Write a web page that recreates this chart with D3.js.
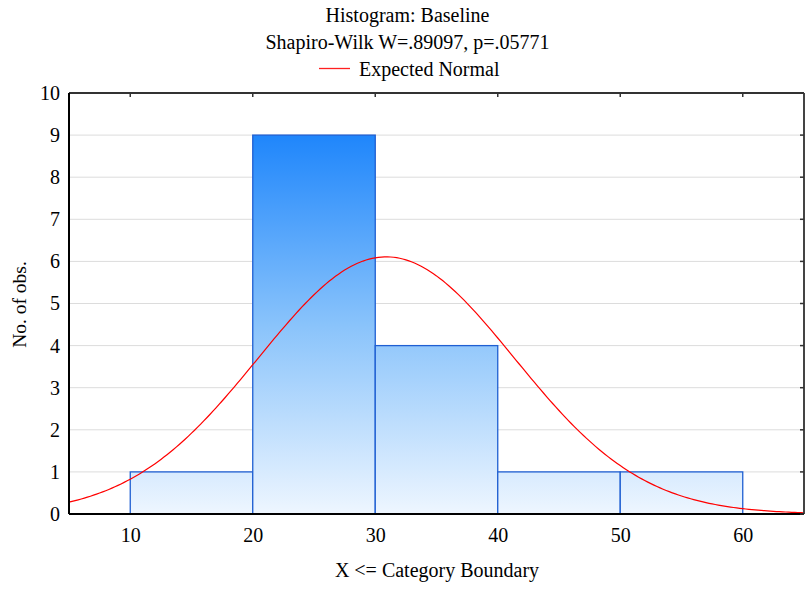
<!DOCTYPE html>
<html><head><meta charset="utf-8">
<script src="https://cdn.jsdelivr.net/npm/d3@7"></script>
<style>body{margin:0;background:#fff}svg{display:block}</style>
</head><body>
<script>
const binStarts = [10, 20, 30, 40, 50];
const binEnds = [20, 30, 40, 50, 60];
const counts = [1, 9, 4, 1, 1];
const xTicks = [10, 20, 30, 40, 50, 60];
const yTicks = [0, 1, 2, 3, 4, 5, 6, 7, 8, 9, 10];
const normalMean = 30.9;
const normalSD = 10.45;
const titleLines = ["Histogram: Baseline", "Shapiro-Wilk W=.89097, p=.05771"];

const FONT = "'Liberation Serif', 'Times New Roman', serif";
const W = 807, H = 592;
const m = {l: 69, r: 3, t: 93, b: 78};
const svg = d3.select("body").append("svg").attr("width", W).attr("height", H)
  .style("font-family", FONT);
const x = d3.scaleLinear().domain([5, 65]).range([m.l, W - m.r]);
const y = d3.scaleLinear().domain([0, 10]).range([H - m.b, m.t]);

const defs = svg.append("defs");
const g = defs.append("linearGradient").attr("id", "bg").attr("gradientUnits", "userSpaceOnUse")
  .attr("x1", 0).attr("x2", 0).attr("y1", y(9)).attr("y2", y(0));
g.append("stop").attr("offset", 0).attr("stop-color", "#1f86fb");
g.append("stop").attr("offset", 0.5).attr("stop-color", "#89c3fb");
g.append("stop").attr("offset", 1).attr("stop-color", "#eef6ff");

// grid
svg.append("g").selectAll("line").data(yTicks.slice(1, -1)).join("line")
  .attr("x1", x(5)).attr("x2", x(65)).attr("y1", d => y(d)).attr("y2", d => y(d))
  .attr("stroke", "#dcdcdc").attr("stroke-width", 1);

// bars
const n = counts.reduce((a, b) => a + b, 0);
svg.append("g").selectAll("rect").data(counts).join("rect")
  .attr("x", (d, i) => x(binStarts[i]))
  .attr("width", (d, i) => x(binEnds[i]) - x(binStarts[i]))
  .attr("y", d => y(d))
  .attr("height", d => y(0) - y(d))
  .attr("fill", "url(#bg)")
  .attr("stroke", "#1f5fd2").attr("stroke-width", 1.3);

// normal curve
const bw = binEnds[0] - binStarts[0];
const pts = d3.range(5, 65.01, 0.25).map(v => [v, n * bw * Math.exp(-0.5 * ((v - normalMean) / normalSD) ** 2) / (normalSD * Math.sqrt(2 * Math.PI))]);
svg.append("path").datum(pts)
  .attr("d", d3.line().x(d => x(d[0])).y(d => y(d[1])))
  .attr("fill", "none").attr("stroke", "#ff0000").attr("stroke-width", 1.2);

// frame
svg.append("line").attr("x1", x(5)).attr("x2", x(65)).attr("y1", y(10)).attr("y2", y(10)).attr("stroke", "#333").attr("stroke-width", 2);
svg.append("line").attr("x1", x(65)).attr("x2", x(65)).attr("y1", y(10)).attr("y2", y(0)).attr("stroke", "#444").attr("stroke-width", 2);
svg.append("line").attr("x1", x(5)).attr("x2", x(65)).attr("y1", y(0)).attr("y2", y(0)).attr("stroke", "#000").attr("stroke-width", 2);
svg.append("line").attr("x1", x(5)).attr("x2", x(5)).attr("y1", y(10)).attr("y2", y(0)).attr("stroke", "#000").attr("stroke-width", 2);

// top ticks, right ticks
svg.append("g").selectAll("line").data(xTicks).join("line")
  .attr("x1", d => x(d)).attr("x2", d => x(d)).attr("y1", y(10)).attr("y2", y(10) + 4)
  .attr("stroke", "#333").attr("stroke-width", 1.5);
svg.append("g").selectAll("line").data(yTicks).join("line")
  .attr("x1", x(65)).attr("x2", x(65) - 4).attr("y1", d => y(d)).attr("y2", d => y(d))
  .attr("stroke", "#333").attr("stroke-width", 1.5);

// axes labels
const yAxis = d3.axisLeft(y).tickValues(yTicks).tickSize(0).tickPadding(9).tickFormat(d3.format("d"));
const ya = svg.append("g").attr("transform", `translate(${x(5)},0)`).call(yAxis);
ya.select(".domain").remove();
const xAxis = d3.axisBottom(x).tickValues(xTicks).tickSize(0).tickPadding(14);
const xa = svg.append("g").attr("transform", `translate(0,${y(0)})`).call(xAxis);
xa.select(".domain").remove();
svg.selectAll("g").attr("font-family", null).attr("font-size", null);
svg.selectAll(".tick text").attr("fill", "#000").style("font-family", FONT).style("font-size", "20px");

function txt(sel, fs) { return sel.style("font-family", FONT).style("font-size", (fs || 20) + "px").attr("fill", "#000"); }
txt(svg.append("text").attr("x", 437).attr("y", 577).attr("text-anchor", "middle")).text("X <= Category Boundary");
txt(svg.append("text").attr("transform", "translate(26,304.5) rotate(-90)").attr("text-anchor", "middle"), 19.5).text("No. of obs.");

// titles
titleLines.forEach((t, i) => txt(svg.append("text").attr("x", 407.5).attr("y", 22 + i * 26.5).attr("text-anchor", "middle")).text(t));
svg.append("line").attr("x1", 319).attr("x2", 350).attr("y1", 68.5).attr("y2", 68.5).attr("stroke", "#ff2020").attr("stroke-width", 1.3);
txt(svg.append("text").attr("x", 359).attr("y", 76)).text("Expected Normal");
</script>
</body></html>
